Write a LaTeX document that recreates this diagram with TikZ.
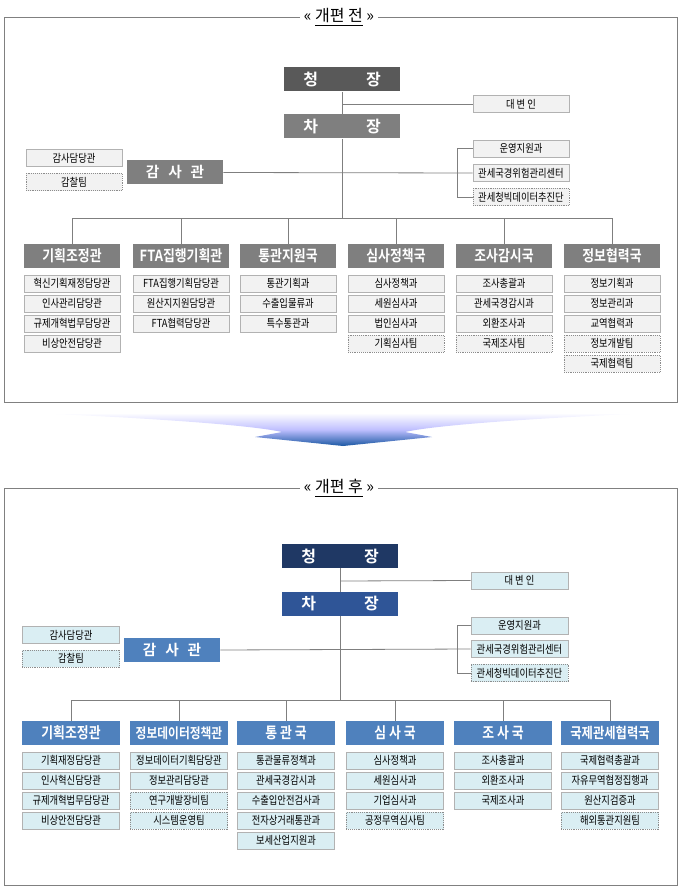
\documentclass[tikz,border=0pt]{standalone}
\usepackage{fontspec}
\setmainfont{Noto Sans CJK KR}[BoldFont={* Bold}]
\newfontfamily\cond{Noto Sans CJK KR}[FakeStretch=0.84,BoldFont={* Bold}]
\usetikzlibrary{positioning}
\definecolor{tgA}{HTML}{595959}
\definecolor{tgB}{HTML}{7F7F7F}
\definecolor{tsub}{HTML}{F2F2F2}
\definecolor{bnA}{HTML}{1F3864}
\definecolor{bnB}{HTML}{2F5597}
\definecolor{bnC}{HTML}{4F81BD}
\definecolor{bsub}{HTML}{DAEEF3}
\definecolor{lin}{HTML}{7F7F7F}
\begin{document}
\begin{tikzpicture}[x=0.75pt,y=-0.75pt,
  big/.style={font=\bfseries\fontsize{12}{14}\selectfont,text=white,minimum width=87pt,minimum height=18pt,inner sep=0pt},
  mid/.style={font=\bfseries\fontsize{11}{13}\selectfont,text=white,minimum width=72pt,minimum height=18pt,inner sep=0pt},
  hd/.style={font=\cond\bfseries\fontsize{11.5}{13}\selectfont,text=white,minimum width=72pt,minimum height=18pt,inner sep=0pt},
  tsb/.style={draw=black!30,fill=tsub,font=\cond\fontsize{8.3}{9}\selectfont,minimum width=72pt,minimum height=13pt,inner sep=0pt},
  tsd/.style={tsb,densely dotted,draw=black!45},
  bsb/.style={draw=black!30,fill=bsub,font=\cond\fontsize{8.3}{9}\selectfont,minimum width=73pt,minimum height=13pt,inner sep=0pt},
  bsd/.style={bsb,densely dotted,draw=black!45},
  ln/.style={draw=lin,line width=0.6pt},
  panel/.style={draw=black!50,line width=0.7pt},
  ttl/.style={font=\fontsize{12}{14}\selectfont,fill=white,inner sep=3pt}]
\useasboundingbox (0,0) rectangle (680,891);
% ===== TOP PANEL =====
\draw[panel] (4,17) rectangle (677,402);
\node[ttl] (t1) at (339,17) {<<~\underline{개편~전}~>>};
\node[big,fill=tgA] (c1) at (342,79.5) {청\hspace{3em}장};
\node[big,fill=tgB] (v1) at (342,126.5) {차\hspace{3em}장};
\node[tsb] (d1) at (521,104) {대 변 인};
\node[mid,fill=tgB] (g1) at (175,172.5) {감\hspace{0.6em}사\hspace{0.6em}관};
\node[tsb] (ga1) at (74,158) {감사담당관};
\node[tsd] (gb1) at (74,182) {감찰팀};
\node[tsb] (r11) at (521,148.5) {운영지원과};
\node[tsb] (r12) at (521,173) {관세국경위험관리센터};
\node[tsd] (r13) at (521,197) {관세청빅데이터추진단};
\coordinate (k1) at (342,104);
\coordinate (bus1) at (342,218);
\coordinate (br1) at (457,148.5);
\coordinate (br1b) at (457,197);
\draw[ln] (c1) -- (v1);
\draw[ln] (k1) -- (d1.west);
\draw[ln] (v1) -- (bus1);
\draw[ln] (g1.east) -- (r12.west);
\draw[ln] (r11.west) -- (br1) -- (br1b) -- (r13.west);
\draw[ln] (72,218) -- (612,218);
\foreach \i/\x/\t in {1/72/기획조정관,2/181/FTA집행기획관,3/288/통관지원국,4/396/심사정책국,5/504/조사감시국,6/612/정보협력국}{
  \node[hd,fill=tgB] (th\i) at (\x,256) {\t};
  \draw[ln] (th\i.north) -- (th\i.north |- bus1);
}
\foreach \i/\L in {1/{혁신기획재정담당관/tsb,인사관리담당관/tsb,규제개혁법무담당관/tsb,비상안전담당관/tsb},
                   2/{FTA집행기획담당관/tsb,원산지지원담당관/tsb,FTA협력담당관/tsb},
                   3/{통관기획과/tsb,수출입물류과/tsb,특수통관과/tsb},
                   4/{심사정책과/tsb,세원심사과/tsb,법인심사과/tsb,기획심사팀/tsd},
                   5/{조사총괄과/tsb,관세국경감시과/tsb,외환조사과/tsb,국제조사팀/tsd},
                   6/{정보기획과/tsb,정보관리과/tsb,교역협력과/tsb,정보개발팀/tsd,국제협력팀/tsd}}{
  \foreach \t/\s [count=\k] in \L {
    \node[\s] (ts\i-\k) at ([yshift=-(\k*20-4.5)*0.75pt]th\i.south) {\t};
  }
}
% ===== ARROW =====
\shade[top color=white,bottom color=blue!55!cyan!60!black!90,middle color=blue!25!white]
 (33,413) -- (652,413) .. controls (560,417) and (440,424) .. (405,432) -- (432,437) -- (343,446) -- (255,437) -- (282,432) .. controls (246,424) and (126,417) .. (33,413) -- cycle;
% ===== BOTTOM PANEL =====
\draw[panel] (4,488) rectangle (677,885);
\node[ttl] (t2) at (339,488) {<<~\underline{개편~후}~>>};
\node[big,fill=bnA] (c2) at (340,556) {청\hspace{3em}장};
\node[big,fill=bnB] (v2) at (340,604) {차\hspace{3em}장};
\node[bsb] (d2) at (519.5,580.5) {대 변 인};
\node[mid,fill=bnC] (g2) at (172,650) {감\hspace{0.6em}사\hspace{0.6em}관};
\node[bsb] (ga2) at (71,635) {감사담당관};
\node[bsd] (gb2) at (71,658.5) {감찰팀};
\node[bsb] (r21) at (519.5,625.5) {운영지원과};
\node[bsb] (r22) at (519.5,649) {관세국경위험관리센터};
\node[bsd] (r23) at (519.5,673) {관세청빅데이터추진단};
\coordinate (k2) at (340,581);
\coordinate (bus2) at (340,700);
\coordinate (br2) at (457,625.5);
\coordinate (br2b) at (457,673);
\draw[ln] (c2) -- (v2);
\draw[ln] (k2) -- (d2.west);
\draw[ln] (v2) -- (bus2);
\draw[ln] (g2.east) -- (r22.west);
\draw[ln] (r21.west) -- (br2) -- (br2b) -- (r23.west);
\draw[ln] (71,700) -- (610,700);
\foreach \i/\x/\t/\f in {1/71/기획조정관/11.5,2/179/정보데이터정책관/10.5,3/286/통\ 관\ 국/11.5,4/395/심\ 사\ 국/11.5,5/503/조\ 사\ 국/11.5,6/610/국제관세협력국/11}{
  \node[hd,fill=bnC,minimum width=74pt,font=\cond\bfseries\fontsize{\f}{13}\selectfont] (bh\i) at (\x,733) {\t};
  \draw[ln] (bh\i.north) -- (bh\i.north |- bus2);
}
\foreach \i/\L in {1/{기획재정담당관/bsb,인사혁신담당관/bsb,규제개혁법무담당관/bsb,비상안전담당관/bsb},
                   2/{정보데이터기획담당관/bsb,정보관리담당관/bsb,연구개발장비팀/bsd,시스템운영팀/bsd},
                   3/{통관물류정책과/bsb,관세국경감시과/bsb,수출입안전검사과/bsb,전자상거래통관과/bsb,보세산업지원과/bsb},
                   4/{심사정책과/bsb,세원심사과/bsb,기업심사과/bsb,공정무역심사팀/bsd},
                   5/{조사총괄과/bsb,외환조사과/bsb,국제조사과/bsb},
                   6/{국제협력총괄과/bsb,자유무역협정집행과/bsb,원산지검증과/bsb,해외통관지원팀/bsd}}{
  \foreach \t/\s [count=\k] in \L {
    \node[\s] (bs\i-\k) at ([yshift=-(\k*20-4.5)*0.75pt]bh\i.south) {\t};
  }
}
\end{tikzpicture}
\end{document}
